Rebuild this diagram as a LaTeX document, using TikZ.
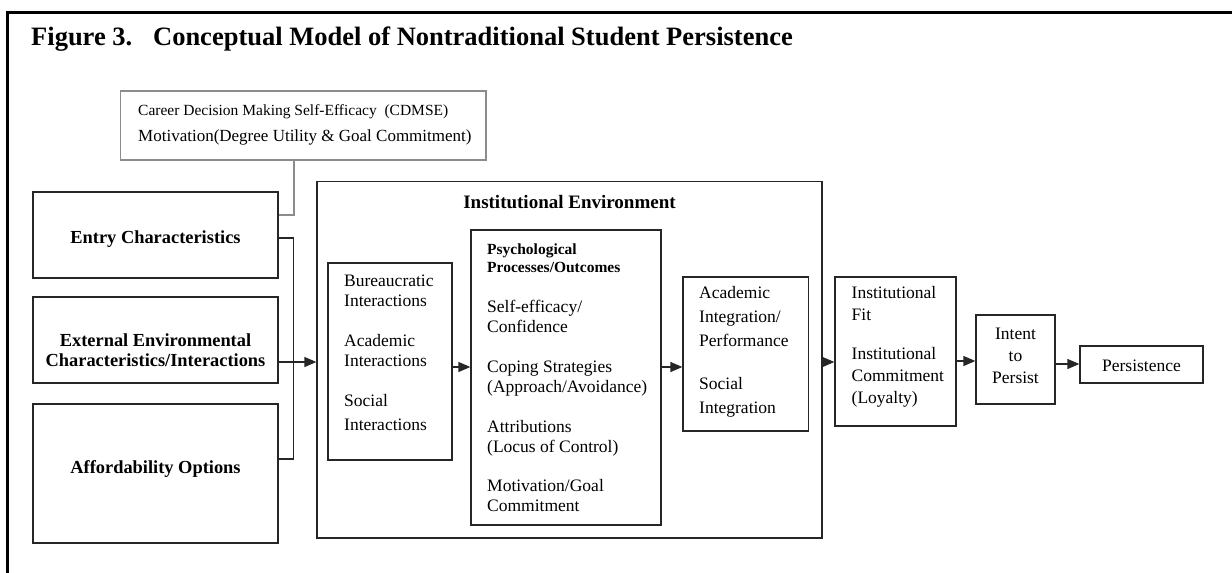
\documentclass[tikz,border=0pt]{standalone}
\usepackage{fontspec}
\setmainfont{Liberation Serif}
\usetikzlibrary{arrows.meta}
\begin{document}
\begin{tikzpicture}[x=1pt,y=-1pt,
    box/.style={draw=black!85,line width=1.3pt,inner sep=0pt},
    softbox/.style={draw=black!45,line width=1.2pt,inner sep=0pt},
    txt/.style={inner sep=0pt,align=left,anchor=base west,font=\fontsize{17.5}{20}\selectfont},
    head/.style={inner sep=0pt,align=center,anchor=base,font=\fontsize{18.4}{20}\selectfont\bfseries},
    flow/.style={draw=black!85,line width=1.3pt,-{Triangle[length=12pt,width=10pt]}},
    link/.style={draw=black!85,line width=1.3pt}]
  \useasboundingbox (0,0) rectangle (1232,573);
  \draw[line width=3pt] (7,573) -- (7,12.5) -- (1232,12.5);
  \node[anchor=base west,inner sep=0pt,font=\fontsize{26.5}{28}\selectfont\bfseries] (title) at (31,45)
    {Figure 3.\hspace{12pt} Conceptual Model of Nontraditional Student Persistence};

  \node[softbox,minimum width=365.5pt,minimum height=69pt] (cdmse) at (303.25,125.5) {};
  \node[box,minimum width=245pt,minimum height=86pt] (entry) at (155.5,235) {};
  \node[box,minimum width=245pt,minimum height=86pt] (extern) at (155.5,340) {};
  \node[box,minimum width=245pt,minimum height=139pt] (afford) at (155.5,473.5) {};
  \node[box,minimum width=505pt,minimum height=356.5pt] (instenv) at (569.5,359.75) {};
  \node[box,minimum width=124pt,minimum height=197pt] (inter) at (390,361.5) {};
  \node[box,minimum width=190pt,minimum height=295pt] (psych) at (566,377.5) {};
  \node[box,minimum width=125.5pt,minimum height=154pt] (acad) at (745.75,354) {};
  \node[box,minimum width=121pt,minimum height=149pt] (fit) at (895.5,351.5) {};
  \node[box,minimum width=79pt,minimum height=89pt] (intent) at (1015.5,359.5) {};
  \node[box,minimum width=123pt,minimum height=37pt] (persist) at (1141.5,364.5) {};

  \node[txt,font=\fontsize{15.5}{26}\selectfont] (cdmsetxt) at (138,141)
    {Career Decision Making Self-Efficacy\ \ (CDMSE)\\{\fontsize{17}{26}\selectfont Motivation(Degree Utility \& Goal Commitment)}};
  \node[head] (entrytxt) at (155.5,243) {Entry Characteristics};
  \node[head] (externtxt) at (155.5,366) {External Environmental\\Characteristics/Interactions};
  \node[head] (affordtxt) at (155.5,473) {Affordability Options};
  \node[head,font=\fontsize{19}{20}\selectfont\bfseries] (envtxt) at (569.5,208) {Institutional Environment};
  \node[txt] (intertxt) at (344,430)
    {Bureaucratic\\Interactions\\[20pt]Academic\\Interactions\\[20pt]Social\\[4pt]Interactions};
  \node[txt,font=\fontsize{15.5}{18}\selectfont\bfseries] (psychhead) at (487,272)
    {Psychological\\Processes/Outcomes};
  \node[txt] (psychtxt) at (487,511)
    {Self-efficacy/\\Confidence\\[20pt]Coping Strategies\\(Approach/Avoidance)\\[20pt]Attributions\\(Locus of Control)\\[19pt]Motivation/Goal\\Commitment};
  \node[txt,font=\fontsize{17.5}{24}\selectfont] (acadtxt) at (699,413)
    {Academic\\Integration/\\Performance\\[19pt]Social\\Integration};
  \node[txt,font=\fontsize{17.5}{22}\selectfont] (fittxt) at (851.5,403)
    {Institutional\\Fit\\[17pt]Institutional\\Commitment\\(Loyalty)};
  \node[txt,align=center,anchor=base,font=\fontsize{17.5}{22}\selectfont] (intenttxt) at (1015.5,383)
    {Intent\\to\\Persist};
  \node[txt,anchor=base] (persisttxt) at (1141.5,371) {Persistence};

  \draw[link,draw=black!45] (cdmse.south -| 294,0) |- (entry.east |- 0,215);
  \draw[link] (entry.east |- 0,238) -- ++(15,0) |- (afford.east |- 0,459);
  \draw[flow] (extern.east |- 0,362) -- (instenv.west |- 0,362);
  \draw[flow] (inter.east |- 0,367) -- (psych.west |- 0,367);
  \draw[flow] (psych.east |- 0,367) -- (acad.west |- 0,367);
  \draw[flow] (instenv.east |- 0,362) -- (fit.west |- 0,362);
  \draw[flow] (fit.east |- 0,361) -- (intent.west |- 0,361);
  \draw[flow] (intent.east |- 0,364) -- (persist.west |- 0,364);
\end{tikzpicture}
\end{document}
